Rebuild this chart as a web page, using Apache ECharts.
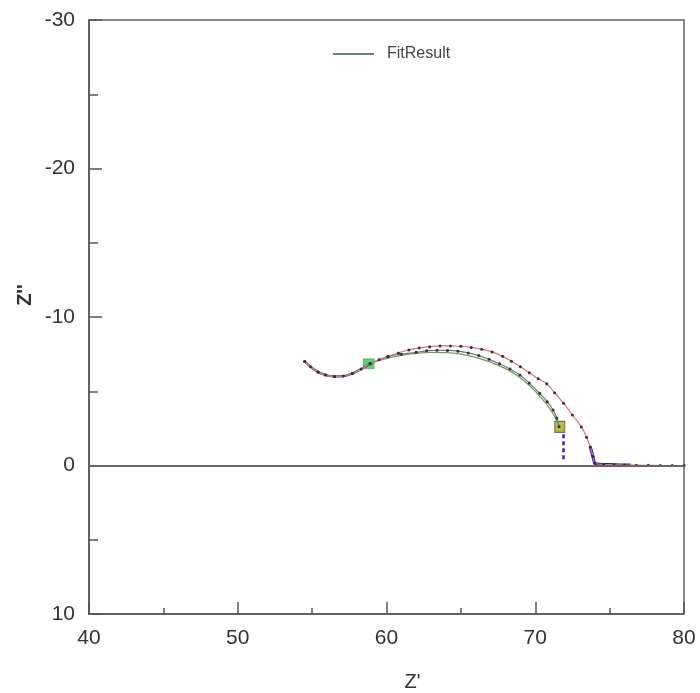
<!DOCTYPE html>
<html>
<head>
<meta charset="utf-8">
<script src="https://cdn.jsdelivr.net/npm/echarts@6/dist/echarts.min.js"></script>
<style>html,body{margin:0;padding:0;background:#fff;}#c{width:700px;height:693px;}</style>
</head>
<body>
<div id="c"></div>
<script>
// ---- data (Z' vs Z'') ----
var outerX = [54.5,54.9,55.4,55.9,56.5,57.1,57.7,58.3,58.9,59.5,60.1,60.8,61.5,62.2,62.9,63.6,64.3,65.0,65.7,66.4,67.1,67.8,68.4,69.0,69.6,70.2,70.77,71.3,71.9,72.5,73.1,73.45,73.7,73.88,74.0,74.6,75.3,76.0,76.8,77.6,78.4,79.2,80.0];
var outerY = [-7.0,-6.65,-6.3,-6.1,-6.0,-6.02,-6.2,-6.5,-6.85,-7.12,-7.35,-7.58,-7.78,-7.92,-8.0,-8.05,-8.05,-8.03,-7.95,-7.82,-7.65,-7.35,-7.02,-6.65,-6.25,-5.85,-5.5,-4.9,-4.2,-3.4,-2.6,-1.9,-1.25,-0.6,-0.15,-0.07,-0.05,-0.03,-0.02,-0.01,0,0,0];
var innerX = [54.5,55.4,56.5,57.7,58.9,60.1,61.0,62.0,62.7,63.4,64.1,64.8,65.5,66.2,66.9,67.6,68.3,68.97,69.6,70.3,70.8,71.2,71.45,71.6];
var innerY = [-7.0,-6.3,-6.0,-6.2,-6.85,-7.33,-7.5,-7.62,-7.72,-7.76,-7.75,-7.7,-7.58,-7.4,-7.15,-6.85,-6.5,-6.09,-5.55,-4.86,-4.3,-3.74,-3.2,-2.61];
var fitX = [54.5,55.4,56.5,57.7,58.9,59.5,60.0,61.0,62.0,63.0,64.0,65.0,66.0,67.0,68.0,68.9,69.7,70.4,71.0,71.4,71.65];
var fitY = [-7.0,-6.3,-6.0,-6.2,-6.85,-7.08,-7.2,-7.42,-7.55,-7.62,-7.6,-7.5,-7.28,-6.96,-6.52,-5.98,-5.3,-4.55,-3.8,-3.1,-2.6];
var startX = [54.5,54.9,55.4,55.9,56.5,57.1,57.7,58.3,58.9];
var startY = [-7.0,-6.65,-6.3,-6.1,-6.0,-6.02,-6.2,-6.5,-6.85];
var tailX = [73.7,73.88,74.0,74.3,75.0,75.7,76.4];
var tailY = [-1.25,-0.6,-0.15,-0.08,-0.06,-0.04,-0.03];
var dropX = [71.9,71.9];
var dropY = [-2.1,-0.3];
var greenMark = [58.8,-6.85];
var oliveMark = [71.65,-2.6];
var xTicks = [40,80,10];
var yTicks = [-30,10,10];

function zip(a,b){return a.map(function(v,i){return [v,b[i]];});}

var font = 'Liberation Sans, Arial, sans-serif';
var chart = echarts.init(document.getElementById('c'), null, {renderer:'canvas'});
chart.setOption({
  backgroundColor:'#fff',
  animation:false,
  grid:{left:89,right:16,top:20,bottom:79,containLabel:false,outerBoundsMode:'none',
        show:true,borderColor:'#666',borderWidth:1.5,backgroundColor:'transparent'},
  legend:{
    data:[{name:'FitResult',icon:'rect'}],left:333,top:46,padding:0,itemWidth:41,itemHeight:1.5,
    textStyle:{fontFamily:font,fontSize:16,color:'#444',padding:[0,0,0,8]}
  },
  xAxis:{
    type:'value',min:xTicks[0],max:xTicks[1],interval:xTicks[2],
    name:"Z'",nameLocation:'middle',nameGap:58,nameMoveOverlap:false,
    nameTextStyle:{fontFamily:font,fontSize:20,color:'#333',padding:[0,0,0,52]},
    axisLine:{onZero:false,lineStyle:{color:'#555',width:1.5}},
    axisTick:{inside:true,length:12,lineStyle:{color:'#555',width:1.5}},
    minorTick:{show:true,splitNumber:2,length:6,lineStyle:{color:'#555',width:1.5}},
    splitLine:{show:false},
    axisLabel:{fontFamily:font,fontSize:21,color:'#333',margin:14}
  },
  yAxis:{
    type:'value',min:yTicks[0],max:yTicks[1],interval:yTicks[2],inverse:true,
    name:"Z''",nameLocation:'middle',nameGap:54,nameRotate:90,nameMoveOverlap:false,
    nameTextStyle:{fontFamily:font,fontSize:20,color:'#333',fontWeight:'bold',padding:[0,0,0,44]},
    axisLine:{onZero:false,lineStyle:{color:'#555',width:1.5}},
    axisTick:{inside:true,length:13,lineStyle:{color:'#555',width:1.5}},
    minorTick:{show:true,splitNumber:2,length:9,lineStyle:{color:'#555',width:1.5}},
    splitLine:{show:false},
    axisLabel:{fontFamily:font,fontSize:21,color:'#333',margin:14}
  },
  series:[
    {name:'zero',type:'line',data:[],silent:true,
     markLine:{silent:true,symbol:'none',label:{show:false},
       lineStyle:{color:'#666',width:2,type:'solid'},data:[{yAxis:0}]}},
    {name:'start',type:'line',data:zip(startX,startY),showSymbol:false,smooth:true,
     lineStyle:{color:'#3a2a9a',width:2.2},silent:true},
    {name:'tail',type:'line',data:zip(tailX,tailY),showSymbol:false,smooth:0.3,
     lineStyle:{color:'#1a1ad0',width:3},silent:true},
    {name:'drop',type:'line',data:zip(dropX,dropY),showSymbol:false,
     lineStyle:{color:'#2a2ab0',width:2.5,type:[4,3]},silent:true},
    {name:'Measured2',type:'line',data:zip(innerX,innerY),smooth:true,
     symbol:'circle',symbolSize:3,itemStyle:{color:'#333'},
     lineStyle:{color:'#6a7890',width:1.2},silent:true},
    {name:'FitResult',type:'line',data:zip(fitX,fitY),smooth:true,showSymbol:false,symbol:'none',
     itemStyle:{color:'#2f5f3f'},
     lineStyle:{color:'#7a9a5a',width:1.3},silent:true},
    {name:'Measured1',type:'line',data:zip(outerX,outerY),smooth:true,
     symbol:'circle',symbolSize:3,itemStyle:{color:'#333'},
     lineStyle:{color:'#e07080',width:1.2},silent:true},
    {name:'markG',type:'scatter',data:[greenMark],symbol:'rect',symbolSize:[11,10],
     itemStyle:{color:'#3cbf4a',borderColor:'#2a8a34',borderWidth:0.5},silent:true},
    {name:'markO',type:'scatter',data:[oliveMark],symbol:'rect',symbolSize:[10,11],
     itemStyle:{color:'#a8a820',borderColor:'#5a5a20',borderWidth:1},silent:true}
  ]
});
</script>
</body>
</html>
